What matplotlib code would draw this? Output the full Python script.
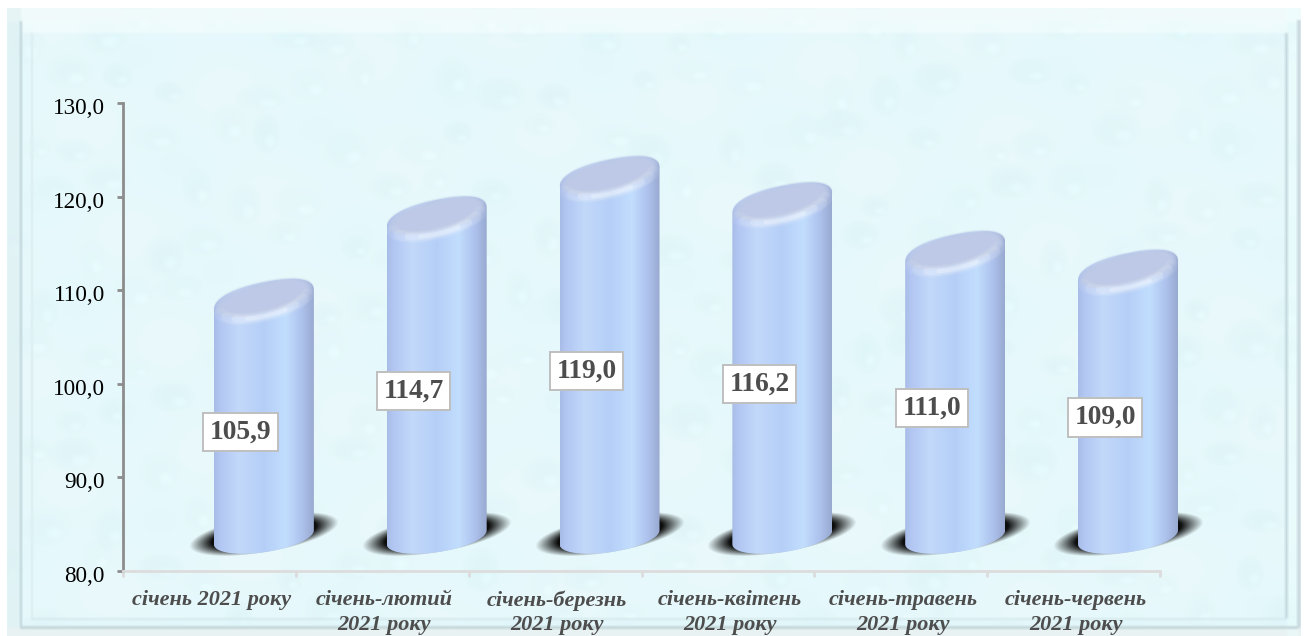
#!/usr/bin/env python3
# -*- coding: utf-8 -*-

"""3d-looking cylinder chart on a water drop background"""

import matplotlib
matplotlib.use('Agg')
import matplotlib.pyplot as plt
import numpy as np
from matplotlib.patches import PathPatch
from matplotlib.path import Path
from matplotlib.transforms import ScaledTranslation

categories = ['січень 2021 року', 'січень-лютий\n2021 року', 'січень-березнь\n2021 року',
              'січень-квітень\n2021 року', 'січень-травень\n2021 року', 'січень-червень\n2021 року']
values = [105.9, 114.7, 119.0, 116.2, 111.0, 109.0]
value_labels = ['105,9', '114,7', '119,0', '116,2', '111,0', '109,0']
yticks = [80, 90, 100, 110, 120, 130]
ytick_labels = ['80,0', '90,0', '100,0', '110,0', '120,0', '130,0']

W, H = 1304, 636
X0, X1, Y80, Y130 = 123, 1160, 571, 103
PX = 6 / (X1 - X0)   # data units per pixel
PY = 50 / (Y80 - Y130)


def blur(a, n):
    k = np.ones(n) / n
    for axis in (0, 1):
        a = np.apply_along_axis(lambda m: np.convolve(np.pad(m, n, mode='edge'), k, 'same')[n:-n], axis, a)
    return a


def background():
    img = np.ones((H, W, 3)) * np.array([0.905, 0.975, 0.985])
    yy, xx = np.mgrid[0:H, 0:W]
    img[..., 0] += 0.008 * np.sin(xx / 37.0 + yy / 53.0) * np.cos(yy / 29.0 - xx / 71.0)
    # faint drops, shuffled around a lattice by fixed sines
    for r in range(12):
        for c in range(21):
            cx = 24 + c * 64 + (r % 2) * 30 + 16 * np.sin(c * 2.1 + r * 1.1)
            cy = 30 + r * 54 + 14 * np.cos(c * 1.3 + r * 2.7)
            a = 20 + 6 * np.sin(c * 1.7 + r * 2.3)
            b = 17 + 5 * np.cos(c * 0.9 + r * 1.3)
            d = ((xx - cx) / a) ** 2 + ((yy - cy) / b) ** 2
            shade = np.clip(1.1 - d, 0, 1) ** 0.7 * (0.016 + 0.007 * np.sin(c * r))
            img -= shade[..., None] * np.array([1.0, 0.5, 0.45])
            d2 = ((xx - cx - a * 0.3) / (a * 0.4)) ** 2 + ((yy - cy - b * 0.35) / (b * 0.35)) ** 2
            img += np.clip(1 - d2, 0, 1)[..., None] * 0.018
    # frame bands
    img[8:22, 7:] = img[8:22, 7:] * 0.4 + np.array([0.97, 0.99, 0.99]) * 0.6
    img[22:33, 22:1287] = img[22:33, 22:1287] * 0.5 + np.array([0.97, 1.0, 1.0]) * 0.5
    img[:, 7:21] = img[:, 7:21] * 0.5 + np.array([0.86, 0.93, 0.94]) * 0.5
    img[618:628, 21:1298] = img[618:628, 21:1298] * 0.6 + np.array([0.87, 0.96, 0.98]) * 0.4
    img[628:, 7:] = np.array([0.91, 0.95, 0.95])
    img[:, 1287:1298] = img[:, 1287:1298] * 0.6 + np.array([0.93, 1.0, 1.0]) * 0.4
    # frame lines
    img[21:628, 20:22] = [0.74, 0.83, 0.85]
    img[33:618, 31:33] = [0.86, 0.93, 0.94]
    img[618:620, 31:1287] = [0.84, 0.92, 0.93]
    img[626:629, 20:1298] = [0.78, 0.85, 0.86]
    img[33:618, 1285:1288] = [0.78, 0.86, 0.88]
    img[20:628, 1297:1301] = [0.80, 0.86, 0.88]
    img = blur(img, 3)
    img[:8, :] = 1
    img[:, :7] = 1
    img[:, 1301:] = 1
    return np.clip(img, 0, 1)


def ellipse(cx, cy, a, b, shear, t, n=2.0):
    # a, b, shear are pixels, cx, cy are data units; n > 2 rounds the shoulders
    c = np.sign(np.cos(t)) * np.abs(np.cos(t)) ** (2 / n)
    s = np.sign(np.sin(t)) * np.abs(np.sin(t)) ** (2 / n)
    return (cx + a * c * PX, cy + (shear * c + b * s) * PY)


def draw_bar(ax, cx, value):
    top = value + 3.02
    base = 83.6
    a = 50
    # shadow under the foot
    gx = np.linspace(-85, 85, 170)
    gy = np.linspace(-35, 35, 70)
    mx, my = np.meshgrid(gx, gy)
    d = np.sqrt((mx / 75.0) ** 2 + ((my - 0.16 * mx) / 19.0) ** 2)
    rgba = np.zeros((70, 170, 4))
    rgba[..., :3] = 0.05
    rgba[..., 3] = np.clip((1 - d) / 0.3, 0, 1)
    sh = ax.imshow(rgba, extent=(cx - 85 * PX, cx + 85 * PX, base + 0.3 + 35 * PY, base + 0.3 - 35 * PY),
                   aspect='auto', zorder=2, interpolation='bilinear')
    sh.set_clip_box(fig.bbox)

    # body outline: front of the foot, then up and over the back of the cap
    tb = np.linspace(np.pi, 2 * np.pi, 60)
    tt = np.linspace(0, np.pi, 60)
    bx, by = ellipse(cx, base, a, 15, 7, tb)
    ux, uy = ellipse(cx, top, a, 18, 10, tt, 2.35)
    verts = np.column_stack([np.r_[bx, ux], np.r_[by, uy]])
    outline = PathPatch(Path(np.vstack([verts, verts[0]]), closed=True), fc='none', ec='none',
                        transform=ax.transData, clip_on=False)
    ax.add_patch(outline)

    stops = [0.0, 0.06, 0.25, 0.5, 0.72, 0.88, 1.0]
    cols = np.array([[0.66, 0.74, 0.91], [0.70, 0.78, 0.95], [0.76, 0.85, 0.98], [0.71, 0.81, 0.97],
                     [0.76, 0.87, 0.995], [0.68, 0.76, 0.93], [0.60, 0.67, 0.82]])
    u = np.linspace(0, 1, 100)
    grad = np.column_stack([np.interp(u, stops, cols[:, i]) for i in range(3)])[None, :, :]
    im = ax.imshow(grad, extent=(cx - a * PX, cx + a * PX, base - 20 * PY, top + 25 * PY),
                   aspect='auto', zorder=3, interpolation='bilinear')
    im.set_clip_path(outline)
    im.set_clip_box(fig.bbox)

    # soft cap with blurred edge: stacked fills shrink towards the middle
    t = np.linspace(0, 2 * np.pi, 120)
    for grow, alpha in [(0, 0.25), (-2, 0.35), (-4, 0.5), (-6, 0.7), (-8, 1.0)]:
        kx, ky = ellipse(cx, top + 2.5 * PY, a + grow, 17 + grow * 0.55, 10, t, 2.25)
        pts = ax.fill(kx, ky, color='#bdc9e6', ec='none', alpha=alpha, zorder=4)[0]
        pts.set_clip_on(False)

    # highlight along the front of the cap, brightest just right of the middle
    for lw, alpha, t0, t1 in [(9, 0.08, 1.08, 1.92), (7, 0.12, 1.18, 1.85), (5, 0.18, 1.28, 1.75), (3, 0.28, 1.38, 1.66)]:
        t = np.linspace(t0 * np.pi, t1 * np.pi, 50)
        lx, ly = ellipse(cx, top, a - 5, 16, 10, t)
        line, = ax.plot(lx, ly, color='white', lw=lw, alpha=alpha, zorder=5, solid_capstyle='round')
        line.set_clip_on(False)


fig = plt.figure(figsize=(W / 100, H / 100), dpi=100)
bg = fig.add_axes([0, 0, 1, 1])
bg.imshow(background(), extent=(0, W, H, 0), aspect='auto', interpolation='bilinear')
bg.axis('off')

ax = fig.add_axes([X0 / W, 1 - Y80 / H, (X1 - X0) / W, (Y80 - Y130) / H])
ax.patch.set_alpha(0)

positions = np.arange(len(values)) + 0.5
for pos, val in zip(positions, values):
    draw_bar(ax, pos + 0.315, val)

for pos, val, lab in zip(positions, values, value_labels):
    ax.text(pos + 0.182, (val + 83.6) / 2 + 0.1, lab, family='Liberation Serif', weight='bold', fontsize=19.8,
            color='#4d4d4d', ha='center', va='center', zorder=8,
            bbox=dict(boxstyle='square,pad=0.24', fc='white', ec='#bfbfbf', lw=1.4))

ax.set_xlim(0, 6)
ax.set_ylim(80, 130)
ax.set_yticks(yticks)
ax.set_yticklabels(ytick_labels, family='Liberation Serif', fontsize=16.7, color='black')
ax.tick_params(axis='y', length=4, width=2, color='#8c8c8c', pad=9)
ax.set_xticks(range(7))
ax.set_xticklabels([])
ax.tick_params(axis='x', which='major', length=4, width=2, color='#dcdcdc')
ax.set_xticks(positions + 0.012, minor=True)
ax.set_xticklabels(categories, minor=True, family='Liberation Serif', style='italic', weight='bold',
                   fontsize=16, color='#4d4d4d', linespacing=1.28)
ax.tick_params(axis='x', which='minor', length=0, pad=14)
for side in ('top', 'right'):
    ax.spines[side].set_visible(False)
ax.spines['left'].set_color('#8c8c8c')
ax.spines['left'].set_linewidth(2)
ax.spines['bottom'].set_color('#dcdcdc')
ax.spines['bottom'].set_linewidth(2)

# y labels sit a bit below their ticks
shift = ScaledTranslation(0, -3 / 100, fig.dpi_scale_trans)
for label in ax.get_yticklabels():
    label.set_transform(label.get_transform() + shift)

fig.savefig('out.png', dpi=100)
